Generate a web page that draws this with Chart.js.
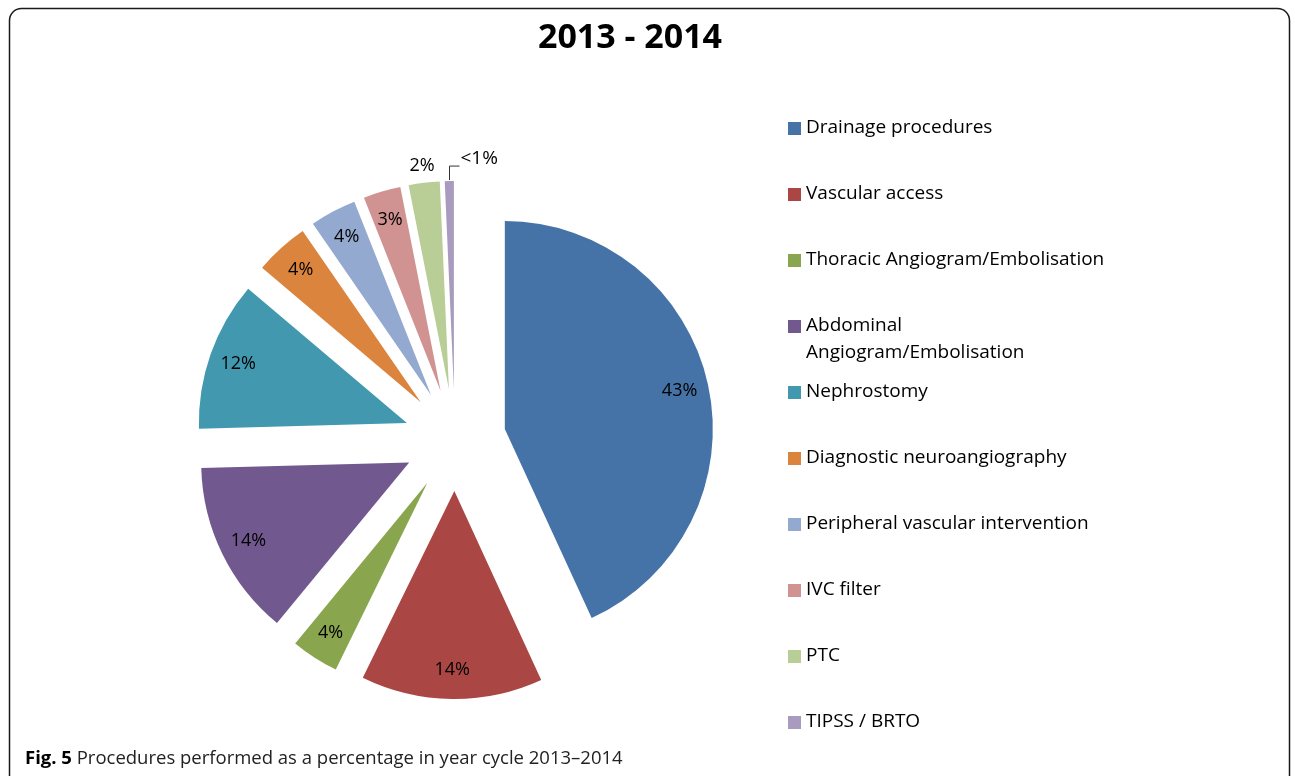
<!DOCTYPE html>
<html>
<head>
<meta charset="utf-8">
<script src="https://cdn.jsdelivr.net/npm/chart.js@4.4.1/dist/chart.umd.min.js"></script>
<style>
  html, body { margin: 0; padding: 0; background: #fff; overflow: hidden; }
  #wrap { position: relative; width: 1295px; height: 776px; }
  canvas { position: absolute; left: 0; top: 0; }
</style>
</head>
<body>
<div id="wrap"><canvas id="procedures" width="1295" height="776"></canvas></div>
<script>
// Procedures 2013 - 2014 (share of all procedures, %)
const categories = [
  "Drainage procedures",
  "Vascular access",
  "Thoracic Angiogram/Embolisation",
  ["Abdominal", "Angiogram/Embolisation"],
  "Nephrostomy",
  "Diagnostic neuroangiography",
  "Peripheral vascular intervention",
  "IVC filter",
  "PTC",
  "TIPSS / BRTO"
];
const shares = [43.1, 14.1, 3.7, 13.6, 11.6, 4.2, 3.6, 2.9, 2.4, 0.7];
const colours = [
  "#4572A7", "#AA4643", "#89A54E", "#71588F", "#4198AF",
  "#DB843D", "#93A9CF", "#D19392", "#B9CD96", "#A99BBD"
];
const chartTitle = "2013 - 2014";
const captionLead = "Fig. 5";
const captionText = "Procedures performed as a percentage in year cycle 2013\u20132014";

const FONT = '"Open Sans", "DejaVu Sans", sans-serif';
const EXPLODE = 51;

// pull every slice out along its bisector (Excel style explosion)
const explode = {
  id: 'explode',
  afterDatasetUpdate(chart, args) {
    args.meta.data.forEach((arc) => {
      const mid = (arc.startAngle + arc.endAngle) / 2;
      arc.x += Math.cos(mid) * EXPLODE;
      arc.y += Math.sin(mid) * EXPLODE;
    });
  }
};

// frame, title and figure caption
const frame = {
  id: 'frame',
  beforeDraw(chart) {
    const ctx = chart.ctx;
    ctx.save();
    ctx.fillStyle = '#fff';
    ctx.fillRect(0, 0, chart.width, chart.height);
    ctx.strokeStyle = '#1a1a1a';
    ctx.lineWidth = 1.5;
    ctx.beginPath();
    ctx.roundRect(9.5, 8.5, 1280, 820, 12);
    ctx.stroke();

    ctx.fillStyle = '#000';
    ctx.textBaseline = 'middle';
    ctx.textAlign = 'center';
    ctx.font = 'bold 34px ' + FONT;
    ctx.fillText(chartTitle, 630, 38);

    ctx.textAlign = 'left';
    ctx.font = 'bold 18.5px ' + FONT;
    ctx.fillText(captionLead, 25, 759);
    const w = ctx.measureText(captionLead + ' ').width;
    ctx.font = '18.5px ' + FONT;
    ctx.fillStyle = '#222';
    ctx.fillText(captionText, 25 + w, 759);
    ctx.restore();
  }
};

// percentage labels on the slices
const sliceLabels = {
  id: 'sliceLabels',
  afterDatasetsDraw(chart) {
    const ctx = chart.ctx;
    const arcs = chart.getDatasetMeta(0).data;
    ctx.save();
    ctx.font = '18px ' + FONT;
    ctx.fillStyle = '#000';
    ctx.textBaseline = 'middle';
    arcs.forEach((arc, i) => {
      const v = shares[i];
      const text = v < 1 ? '<1%' : Math.round(v) + '%';
      const mid = (arc.startAngle + arc.endAngle) / 2;
      const r = arc.outerRadius;
      const dx = Math.cos(mid), dy = Math.sin(mid);
      if (v >= 2.5) {
        ctx.textAlign = 'center';
        ctx.fillText(text, arc.x + dx * r * 0.86, arc.y + dy * r * 0.86);
      } else if (v >= 1) {
        ctx.textAlign = 'center';
        ctx.fillText(text, arc.x + dx * (r + 17), arc.y + dy * (r + 17));
      } else {
        const px = Math.round(arc.x + dx * (r + 1)) + 0.5;
        const py = arc.y + dy * (r + 1);
        ctx.strokeStyle = '#333';
        ctx.lineWidth = 1;
        ctx.beginPath();
        ctx.moveTo(px, py);
        ctx.lineTo(px, py - 14);
        ctx.lineTo(px + 10, py - 14);
        ctx.stroke();
        ctx.textAlign = 'left';
        ctx.font = '19px ' + FONT;
        ctx.fillText(text, px + 11, py - 21);
      }
    });
    ctx.restore();
  }
};

// legend on the right, one row every 66px
const sideLegend = {
  id: 'sideLegend',
  afterDraw(chart) {
    const ctx = chart.ctx;
    const ds = chart.data.datasets[0];
    ctx.save();
    ctx.font = '19px ' + FONT;
    ctx.textBaseline = 'middle';
    ctx.textAlign = 'left';
    chart.data.labels.forEach((lab, i) => {
      const y = 128 + i * 66;
      ctx.fillStyle = ds.backgroundColor[i];
      ctx.fillRect(788, y - 6, 13, 13);
      ctx.fillStyle = '#000';
      const lines = Array.isArray(lab) ? lab : [lab];
      lines.forEach((ln, j) => ctx.fillText(ln, 806, y + j * 27));
    });
    ctx.restore();
  }
};

new Chart(document.getElementById('procedures'), {
  type: 'pie',
  data: {
    labels: categories,
    datasets: [{
      data: shares,
      backgroundColor: colours,
      borderWidth: 0
    }]
  },
  options: {
    responsive: false,
    animation: false,
    radius: 208,
    layout: { padding: { left: 0, right: 385, top: 104, bottom: 0 } },
    plugins: {
      legend: { display: false },
      tooltip: { enabled: false },
      title: { display: false }
    },
    events: []
  },
  plugins: [explode, frame, sliceLabels, sideLegend]
});
</script>
</body>
</html>
